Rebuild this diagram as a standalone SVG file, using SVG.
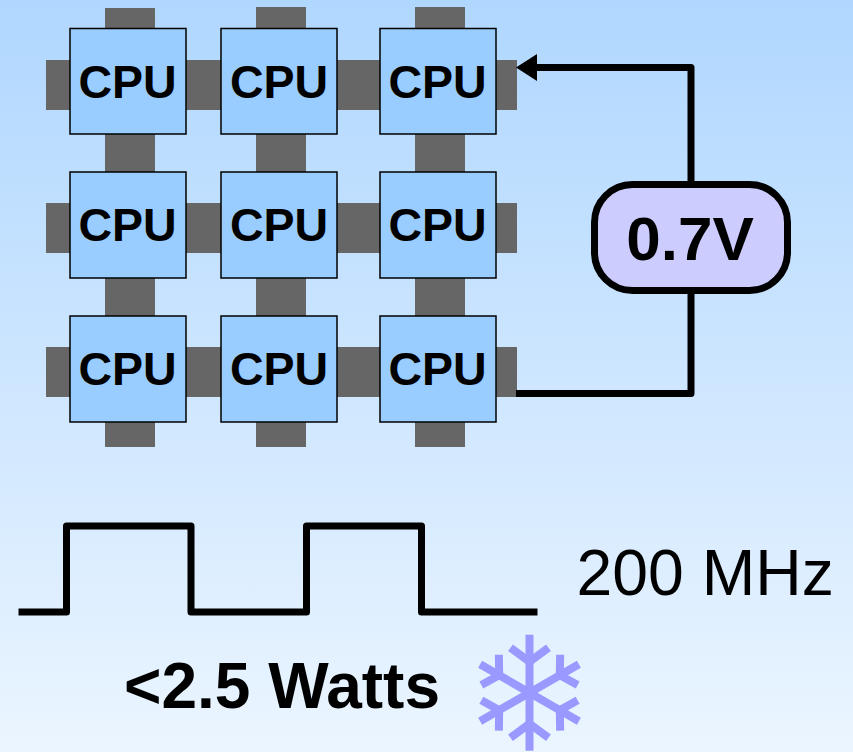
<svg xmlns="http://www.w3.org/2000/svg" width="853" height="752" viewBox="0 0 853 752">
<style>
.stub{fill:#666666}
.cpu rect{fill:#99ccff;stroke:#000000;stroke-width:1.5}
.cpu text{font:bold 46.500px "Liberation Sans",Arial,sans-serif;fill:#000;text-anchor:middle}
.wire{fill:none;stroke:#000;stroke-width:7;stroke-linejoin:round}
.flake{fill:none;stroke:#9999ff;stroke-width:8}
.flake .tw{stroke-width:7}
</style>
<defs>
<linearGradient id="bg" x1="0" y1="0" x2="0" y2="1"><stop offset="0" stop-color="#b0d7ff"/><stop offset="1" stop-color="#ebf5ff"/></linearGradient>
<g id="armV"><path d="M0 0V-58"/><path class="tw" d="M-19 -45 0 -31 19 -45"/></g>
<g id="armD"><path d="M0 0V-57"/><path class="tw" d="M-17.500 -45.500 0 -35 17.500 -45.500"/></g>
</defs>
<rect width="853" height="752" fill="url(#bg)"/>
<g id="stubs" class="stub">
<rect x="46" y="60" width="471" height="50"/>
<rect x="46" y="203" width="471" height="50"/>
<rect x="46" y="347" width="471" height="50"/>
<rect x="105" y="8" width="50" height="439"/>
<rect x="256" y="7" width="50" height="440"/>
<rect x="415" y="7" width="50" height="440"/>
</g>
<g id="cpu-1-1" class="cpu"><rect x="70" y="28.500" width="116" height="105.500"/><text x="127.500" y="98">CPU</text></g>
<g id="cpu-1-2" class="cpu"><rect x="221" y="28.500" width="116" height="105.500"/><text x="279" y="98">CPU</text></g>
<g id="cpu-1-3" class="cpu"><rect x="380" y="28.500" width="116" height="105.500"/><text x="437.500" y="98">CPU</text></g>
<g id="cpu-2-1" class="cpu"><rect x="70" y="172" width="116" height="106"/><text x="127.500" y="241">CPU</text></g>
<g id="cpu-2-2" class="cpu"><rect x="221" y="172" width="116" height="106"/><text x="279" y="241">CPU</text></g>
<g id="cpu-2-3" class="cpu"><rect x="380" y="172" width="116" height="106"/><text x="437.500" y="241">CPU</text></g>
<g id="cpu-3-1" class="cpu"><rect x="70" y="316" width="116" height="106"/><text x="127.500" y="385">CPU</text></g>
<g id="cpu-3-2" class="cpu"><rect x="221" y="316" width="116" height="106"/><text x="279" y="385">CPU</text></g>
<g id="cpu-3-3" class="cpu"><rect x="380" y="316" width="116" height="106"/><text x="437.500" y="385">CPU</text></g>
<g id="connectors">
<path class="wire" d="M691 184V67.500H534"/>
<path d="M516 67.500 537 54V81Z" fill="#000"/>
<path class="wire" d="M691 290V393.500H516"/>
</g>
<g id="regulator">
<rect x="594.500" y="184.500" width="193" height="106" rx="38" ry="38" fill="#ccccff" stroke="#000" stroke-width="7"/>
<text x="690" y="260" font-family="'Liberation Sans',Arial,sans-serif" font-weight="bold" font-size="62" text-anchor="middle">0.7V</text>
</g>
<g id="clock">
<path class="wire" d="M18.500 612H66.500V526H191V612H306.500V526H421.500V612H537.500"/>
<text x="576.500" y="595" font-family="'Liberation Sans',Arial,sans-serif" font-size="64.300">200 MHz</text>
</g>
<text id="power" x="124" y="708" font-family="'Liberation Sans',Arial,sans-serif" font-weight="bold" font-size="64">&lt;2.5 Watts</text>
<g id="snowflake" class="flake" transform="translate(529.500 692.700)">
<use href="#armV"/>
<use href="#armD" transform="rotate(60)"/>
<use href="#armD" transform="rotate(120)"/>
<use href="#armV" transform="rotate(180)"/>
<use href="#armD" transform="rotate(240)"/>
<use href="#armD" transform="rotate(300)"/>
</g>
</svg>
